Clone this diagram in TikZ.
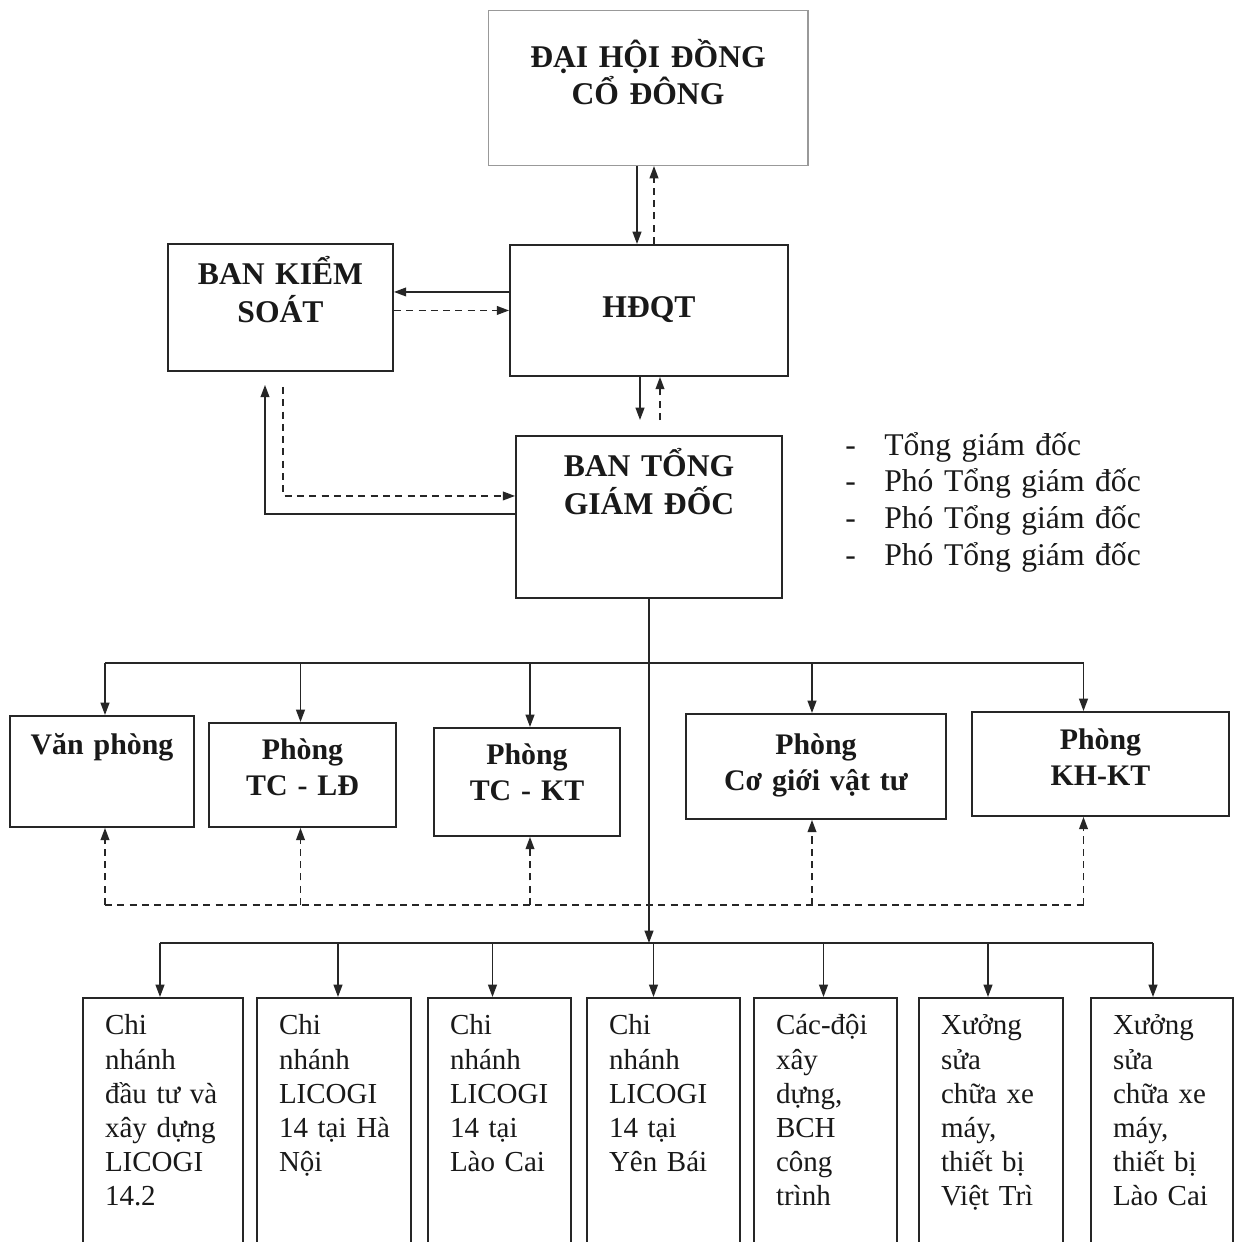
\documentclass[tikz,border=0pt]{standalone}
\usepackage{fontspec}
\setmainfont{Liberation Serif}
\usetikzlibrary{positioning,arrows.meta}

\tikzset{
  box/.style={draw=black!85, line width=1.1pt, inner sep=0pt, anchor=north},
  head/.style={box, font=\bfseries\fontsize{18}{21.3}\selectfont, align=center},
  dept/.style={box, font=\bfseries\fontsize{17}{20.5}\selectfont, align=center},
  branch/.style={box, font=\fontsize{16.5}{19.4}\selectfont, align=left,
    inner xsep=0.44cm, text height=0.74cm, text depth=6cm},
  conn/.style={draw=black!85, line width=0.9pt},
  arr/.style={conn, -{Triangle[length=7pt,width=5pt]}},
  darr/.style={arr, dash pattern=on 4pt off 3pt},
}

\begin{document}
\begin{tikzpicture}[x=0.02cm,y=-0.02cm,text=black!90]
\useasboundingbox[fill=white] (0,0) rectangle (1235,1242);

% top of the chart
\node[head, draw=black!40, line width=0.6pt, text width=6.4cm, text height=1.14cm, text depth=1.96cm] (dhcd) at (648,10) {ĐẠI HỘI ĐỒNG\\CỔ ĐÔNG};
\node[head, text width=5.56cm, text height=1.46cm, text depth=1.16cm] (hdqt) at (649,244) {HĐQT};
\node[head, text width=4.5cm, text height=0.82cm, text depth=1.72cm] (bks) at (280.5,243) {BAN KIỂM\\SOÁT};
\node[head, text width=5.32cm, text height=0.82cm, text depth=2.42cm] (btgd) at (649,435) {BAN TỔNG\\GIÁM ĐỐC};

\node[anchor=base west, inner sep=0pt, text width=8cm, align=left, font=\fontsize{18}{21}\selectfont] (gd) at (845,455)
  {\makebox[0.78cm][l]{-}Tổng giám đốc\\
   \makebox[0.78cm][l]{-}Phó Tổng giám đốc\\
   \makebox[0.78cm][l]{-}Phó Tổng giám đốc\\
   \makebox[0.78cm][l]{-}Phó Tổng giám đốc};

\draw[arr] ([xshift=-0.24cm]hdqt.north |- dhcd.south) -- ([xshift=-0.24cm]hdqt.north);
\draw[darr] ([xshift=0.1cm]hdqt.north) -- ([xshift=0.1cm]hdqt.north |- dhcd.south);
\draw[arr, shorten >=0.3cm] ([xshift=-0.18cm]hdqt.south) -- ([xshift=-0.18cm]hdqt.south |- btgd.north);
\draw[darr, shorten <=0.3cm] ([xshift=0.22cm]hdqt.south |- btgd.north) -- ([xshift=0.22cm]hdqt.south);
\draw[arr] ([yshift=0.37cm]hdqt.west) -- ([yshift=0.37cm]hdqt.west -| bks.east);
\draw[darr] (bks.east |- hdqt.west) -- (hdqt.west);
\draw[arr, shorten >=0.26cm] ([yshift=0.06cm]btgd.west) -| ([xshift=-0.31cm]bks.south);
\draw[darr, shorten <=0.3cm] ([xshift=0.05cm]bks.south) |- ([yshift=0.42cm]btgd.west);

% departments
\node[dept, text width=3.68cm, text height=0.78cm, text depth=1.44cm] (van) at (102,715) {Văn phòng};
\node[dept, text width=3.74cm, text height=0.74cm, text depth=1.34cm] (tcld) at (302.5,722) {Phòng\\TC - LĐ};
\node[dept, text width=3.72cm, text height=0.74cm, text depth=1.42cm] (tckt) at (527,727) {Phòng\\TC - KT};
\node[dept, text width=5.2cm, text height=0.82cm, text depth=1.28cm] (cgvt) at (816,713) {Phòng\\Cơ giới vật tư};
\node[dept, text width=5.14cm, text height=0.76cm, text depth=1.32cm] (khkt) at (1100.5,711) {Phòng\\KH-KT};

\coordinate (bus1) at (0,663);
\coordinate (dbus) at (0,905);
\coordinate (bus2) at (0,943);

\draw[arr] (btgd.south) -- (btgd.south |- bus2);
\draw[conn] ([xshift=0.06cm]van.north |- bus1) -- ([xshift=-0.34cm]khkt.north |- bus1);
\draw[conn, dash pattern=on 4pt off 3pt] ([xshift=0.06cm]van.south |- dbus) -- ([xshift=-0.34cm]khkt.south |- dbus);
\foreach \dep/\dx in {van/3,tcld/-2,tckt/3,cgvt/-4,khkt/-17}{
  \draw[arr] ([xshift=\dx*0.02cm]\dep.north |- bus1) -- ([xshift=\dx*0.02cm]\dep.north);
  \draw[darr] ([xshift=\dx*0.02cm]\dep.south |- dbus) -- ([xshift=\dx*0.02cm]\dep.south);
}

% branches
\node[branch, text width=2.32cm] (b1) at (163,997) {Chi\\nhánh\\đầu~tư~và\\xây~dựng\\LICOGI\\14.2};
\node[branch, text width=2.2cm] (b2) at (334,997) {Chi\\nhánh\\LICOGI\\14~tại~Hà\\Nội};
\node[branch, text width=1.98cm] (b3) at (499.5,997) {Chi\\nhánh\\LICOGI\\14~tại\\Lào~Cai};
\node[branch, text width=2.18cm] (b4) at (663.5,997) {Chi\\nhánh\\LICOGI\\14~tại\\Yên~Bái};
\node[branch, text width=1.98cm] (b5) at (825.5,997) {Các-đội\\xây\\dựng,\\BCH\\công\\trình};
\node[branch, text width=2.0cm] (b6) at (991,997) {Xưởng\\sửa\\chữa~xe\\máy,\\thiết~bị\\Việt~Trì};
\node[branch, text width=1.96cm] (b7) at (1162,997) {Xưởng\\sửa\\chữa~xe\\máy,\\thiết~bị\\Lào~Cai};

\draw[conn] ([xshift=-0.06cm]b1.north |- bus2) -- ([xshift=-0.18cm]b7.north |- bus2);
\foreach \br/\dx in {b1/-3,b2/4,b3/-7,b4/-10,b5/-2,b6/-3,b7/-9}
  \draw[arr] ([xshift=\dx*0.02cm]\br.north |- bus2) -- ([xshift=\dx*0.02cm]\br.north);
\end{tikzpicture}
\end{document}
